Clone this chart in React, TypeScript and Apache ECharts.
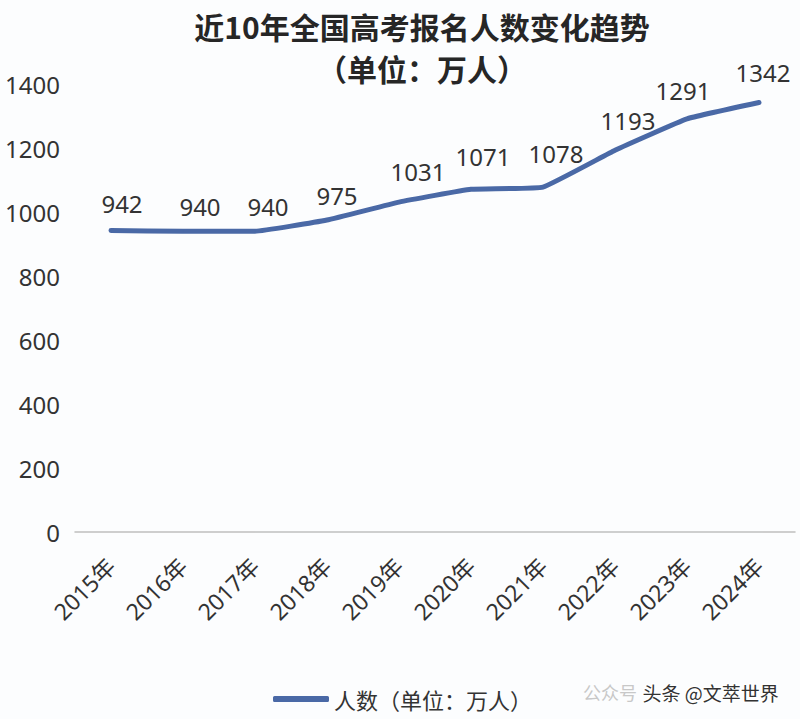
import React, { useEffect, useRef } from "react";
import * as echarts from "echarts";

const categories = ["2015年", "2016年", "2017年", "2018年", "2019年", "2020年", "2021年", "2022年", "2023年", "2024年"];
const values = [942, 940, 940, 975, 1031, 1071, 1078, 1193, 1291, 1342];
const seriesName = "人数（单位：万人）";
const titleText = "近10年全国高考报名人数变化趋势\n（单位：万人）";

// label nudges (px) as placed in the reference
const labelOffsets: [number, number][] = [
  [11, -3], [17, 0], [13, 0], [10, 0], [19, -6], [12, -8], [13, -9], [13, -5], [-4, -4], [4, -6],
];

const FONT = "'Noto Sans CJK SC', 'Noto Sans', sans-serif";
const NUMFONT = "'Noto Sans', 'Noto Sans CJK SC', sans-serif";
const LINE = "#4a69a6";

export default function App() {
  const ref = useRef<HTMLDivElement>(null);
  useEffect(() => {
    if (!ref.current) return;
    const chart = echarts.init(ref.current, null, { renderer: "svg" });
    chart.setOption({
      animation: false,
      backgroundColor: "#fcfdfe",
      textStyle: { fontFamily: FONT },
      title: {
        text: titleText,
        left: 422,
        top: 5,
        padding: 0,
        textAlign: "center",
        textStyle: { fontSize: 30, lineHeight: 42, fontWeight: "bold", color: "#262626", fontFamily: FONT },
      },
      legend: {
        data: [{ name: seriesName, itemStyle: { color: LINE, opacity: 1 } }],
        bottom: 4,
        left: 268,
        itemWidth: 56,
        itemHeight: 6,
        icon: "roundRect",
        itemGap: 4,
        textStyle: { fontSize: 22, color: "#333", fontFamily: FONT },
      },
      grid: { left: 75, right: 5, top: 84, bottom: 187, containLabel: false },
      xAxis: {
        type: "category",
        data: categories,
        boundaryGap: true,
        axisLine: { show: true, lineStyle: { color: "#bfbfbf", width: 1.5 } },
        axisTick: { show: false },
        axisLabel: { rotate: 45, fontSize: 23, color: "#333", margin: 30, interval: 0, fontFamily: NUMFONT },
      },
      yAxis: {
        type: "value",
        min: 0,
        max: 1400,
        interval: 200,
        splitLine: { show: false },
        axisLine: { show: false },
        axisTick: { show: false },
        axisLabel: { fontSize: 24, color: "#333", margin: 15, fontFamily: NUMFONT, formatter: (v: number) => String(v) },
      },
      series: [
        {
          name: seriesName,
          type: "line",
          data: values.map((v, i) => ({ value: v, label: { offset: labelOffsets[i] } })),
          smooth: 0.1,
          symbol: "circle",
          symbolSize: 1,
          showSymbol: true,
          lineStyle: { color: LINE, width: 5, cap: "round" },
          itemStyle: { color: LINE },
          label: {
            show: true,
            position: "top",
            distance: 12,
            fontSize: 24,
            color: "#333",
            fontFamily: NUMFONT,
          },
        },
      ],
      graphic: [
        {
          type: "text",
          left: 583,
          top: 683,
          style: { text: "公众号", fontSize: 18, fill: "#c8c8c8", fontFamily: FONT },
          z: 10,
        },
        {
          type: "text",
          left: 641,
          top: 681,
          style: {
            text: "头条 @文萃世界",
            fontSize: 19,
            fill: "#333",
            stroke: "#ffffff",
            lineWidth: 3,
            fontFamily: FONT,
          },
          z: 11,
        },
      ],
    });
    return () => chart.dispose();
  }, []);
  return <div ref={ref} style={{ position: "fixed", left: 0, top: 0, width: 800, height: 719 }} />;
}
